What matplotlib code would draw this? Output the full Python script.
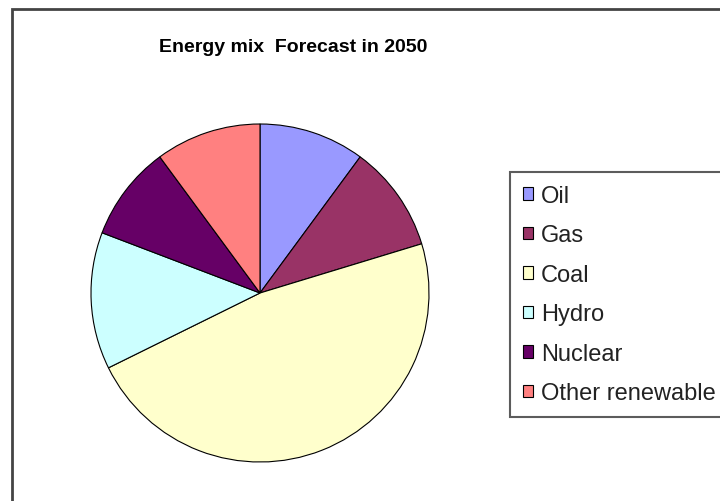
import matplotlib
matplotlib.use("Agg")
import matplotlib.pyplot as plt
from matplotlib.patches import Rectangle, Patch

# energy mix shares (percent)
sources = ["Oil", "Gas", "Coal", "Hydro", "Nuclear", "Other renewable"]
shares = [10.1, 10.2, 47.4, 13.1, 9.1, 10.1]
colors = ["#9999FF", "#993366", "#FFFFCC", "#CCFFFF", "#660066", "#FF8080"]

W, H = 720, 502
plt.rcParams["font.family"] = ["Liberation Sans", "DejaVu Sans"]

fig = plt.figure(figsize=(W / 100, H / 100), dpi=100)
fig.patch.set_facecolor("white")

# chart area frame (runs off the right and bottom edges)
fig.patches.append(Rectangle((12 / W, -0.1), 1.2, 1 - 10 / H + 0.1,
                             transform=fig.transFigure, fill=False,
                             edgecolor="#444444", linewidth=2))

fig.text(293 / W, 1 - 47 / H, "Energy mix  Forecast in 2050",
         ha="center", va="center", fontsize=14, fontweight="bold")

# pie
cx, cy, r = 260, 294, 169
ax = fig.add_axes([(cx - r) / W, 1 - (cy + r) / H, 2 * r / W, 2 * r / H])
ax.pie(shares, colors=colors, startangle=90, counterclock=False,
       wedgeprops=dict(edgecolor="black", linewidth=0.8))
ax.set_xlim(-1, 1)
ax.set_ylim(-1, 1)
ax.axis("off")

handles = [Patch(facecolor=c, edgecolor="black", linewidth=0.8) for c in colors]
leg = fig.legend(handles, sources, loc="upper left",
                 bbox_to_anchor=(510 / W, 1 - 173 / H),
                 fontsize=17, frameon=True, fancybox=False,
                 handlelength=0.42, handleheight=0.42, handletextpad=0.35,
                 labelspacing=0.74, borderpad=0.55, borderaxespad=0)
leg.get_frame().set_edgecolor("#333333")
leg.get_frame().set_linewidth(1.5)
for t in leg.get_texts():
    t.set_color("#222222")

fig.savefig("out.png", dpi=100)
